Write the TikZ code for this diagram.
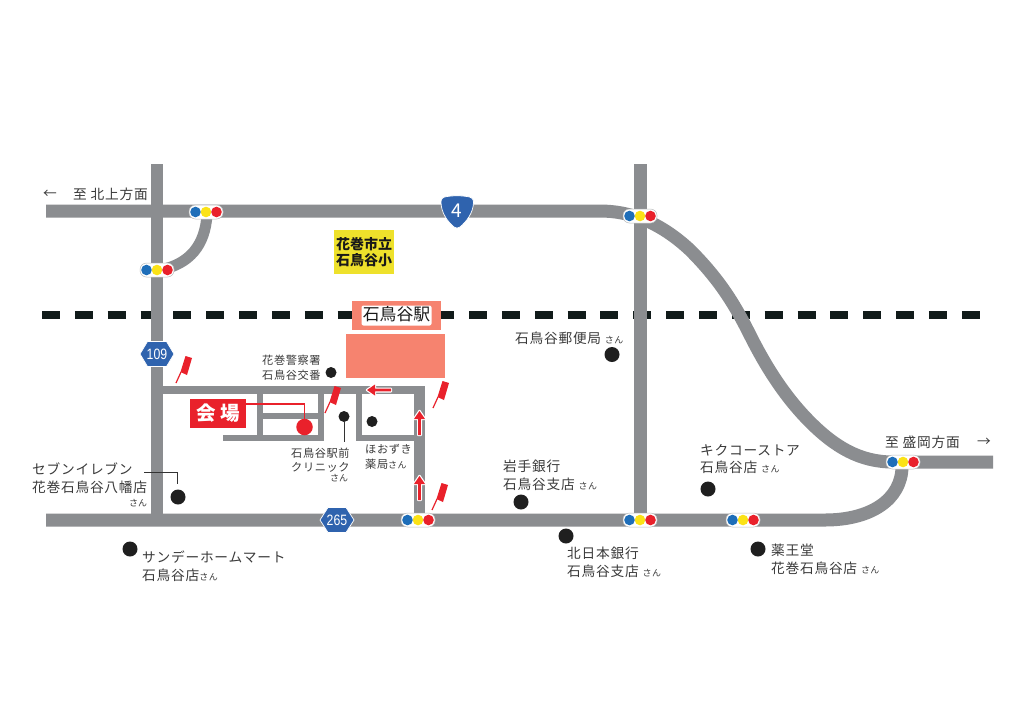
\documentclass[tikz,border=0pt]{standalone}
\usepackage{fontspec}
\setmainfont{Noto Sans CJK JP}
\newfontfamily\jpsp[LetterSpace=5.5]{Noto Sans CJK JP}
\newfontfamily\shieldf[FakeStretch=0.82]{Liberation Sans}
\definecolor{roadgray}{HTML}{8B8D90}
\definecolor{txtgray}{HTML}{3A3A3A}
\definecolor{sigblue}{HTML}{1E6EB9}
\definecolor{sigyellow}{HTML}{FBE216}
\definecolor{sigred}{HTML}{E9212B}
\definecolor{shieldblue}{HTML}{2F63AE}
\definecolor{salmon}{HTML}{F6836F}
\definecolor{schoolyellow}{HTML}{EEE12B}
\definecolor{railblack}{HTML}{111B1A}
\newcommand{\san}{{\fontsize{9}{9}\selectfont さん}}
\tikzset{
  x=1pt,y=-1pt,
  road/.style={draw=roadgray,line width=13pt},
  lane/.style={draw=roadgray,line width=6.5pt},
  lab/.style={inner sep=0pt,anchor=west,align=left,text=txtgray,font=\jpsp\fontsize{13.7}{17.8}\selectfont},
  smalllab/.style={inner sep=0pt,anchor=west,align=left,text=txtgray,font=\jpsp\fontsize{11.2}{14.6}\selectfont},
  sanlab/.style={inner sep=0pt,anchor=west,text=txtgray,font=\fontsize{9}{9}\selectfont},
  bigdot/.style={circle,fill=black!88,minimum size=15pt,inner sep=0pt},
  smalldot/.style={circle,fill=black!88,minimum size=11pt,inner sep=0pt},
  leader/.style={draw=black!80,line width=0.7pt},
  pill/.style={draw=roadgray!60,fill=white,line width=0.5pt,rounded corners=6.5pt,minimum width=34pt,minimum height=14pt,inner sep=0pt},
  lamp/.style={circle,minimum size=10.6pt,inner sep=0pt},
  hexshield/.style={fill=shieldblue,draw=white,line width=0.7pt},
  shieldtxt/.style={inner sep=0pt,text=white,font=\shieldf\fontsize{15}{15}\selectfont},
  flagpin/.pic={
    \draw[sigred,line width=1.2pt] (0,0) -- (5,-11);
    \fill[sigred] (4.5,-11) -- (9.5,-27) -- (16,-25) -- (11,-8) -- cycle;
  },
  solidarrow/.pic={
    \draw[white,fill=white,line width=2.4pt,line join=round]
      (0,0) -- (5.5,8) -- (1.3,8) -- (1.3,24) -- (-1.3,24) -- (-1.3,8) -- (-5.5,8) -- cycle;
    \fill[sigred]
      (0,0) -- (5.5,8) -- (1.3,8) -- (1.3,24) -- (-1.3,24) -- (-1.3,8) -- (-5.5,8) -- cycle;
  }
}
\newcommand{\signal}[3]{%
  \node[pill] (#1) at (#2,#3) {};
  \node[lamp,fill=sigblue] (#1b) at (#2-10.5,#3) {};
  \node[lamp,fill=sigyellow] (#1y) at (#2,#3) {};
  \node[lamp,fill=sigred] (#1r) at (#2+10.5,#3) {};
}
\begin{document}
\begin{tikzpicture}
\useasboundingbox[fill=white] (0,0) rectangle (1024,724);
% railway
\draw[railblack,line width=8.5pt,dash pattern=on 18pt off 14.85pt] (42,315) -- (980,315);
% main roads
\draw[road,line width=12pt] (157,164) -- (157,520);
\draw[road,line width=13pt] (640,164) -- (640,520);
\draw[road] (46,211) -- (600,211) .. controls (630,211) and (660,222) .. (690,250)
  .. controls (720,280) and (735,305) .. (750,335)
  .. controls (770,375) and (790,402) .. (810,422)
  .. controls (835,447) and (860,462) .. (893,462) -- (993,462);
\draw[road] (46,520) -- (825,520) .. controls (870,520) and (902,500) .. (902,466);
\draw[road,line width=11pt] (207,215) .. controls (205,245) and (190,264) .. (160,270);
% local streets
\draw[road,line width=8pt] (157,390) -- (425,390);
\draw[road,line width=11pt] (419.5,386) -- (419.5,520);
\draw[lane] (359,392) -- (359,438) -- (416,438);
\draw[lane] (223,438) -- (321,438) -- (321,392);
\draw[lane] (260,392) -- (260,438);
\draw[lane] (260,416) -- (321,416);
% shields
\path[hexshield] (140,354) -- (147.5,341.5) -- (166.5,341.5) -- (174,354) -- (166.5,366.5) -- (147.5,366.5) -- cycle;
\node[shieldtxt] (r109) at (157,354) {109};
\path[hexshield] (320,520) -- (328,507.5) -- (346,507.5) -- (354,520) -- (346,532.5) -- (328,532.5) -- cycle;
\node[shieldtxt] (r265) at (337,520) {265};
\path[hexshield] (441,202) .. controls (441,198.5) and (443,197) .. (447,196.5)
  .. controls (453,195.5) and (461,195.5) .. (467,196.5)
  .. controls (471,197) and (473.5,198.5) .. (473.5,202)
  .. controls (473.5,213) and (466,222) .. (460,227)
  .. controls (458,228.5) and (456,228.5) .. (454,227)
  .. controls (448,222) and (441,213) .. (441,202) -- cycle;
\node[inner sep=0pt,text=white,font=\fontsize{19}{19}\selectfont] (r4) at (457,211) {4};
% station
\node[fill=salmon,inner sep=0pt,minimum width=89pt,minimum height=29.5pt] (banner) at (396.5,315.5) {};
\node[fill=white,rounded corners=2pt,inner sep=0pt,minimum width=70pt,minimum height=20pt] (halo) at (396.5,315.5) {};
\node[inner sep=0pt,font=\fontsize{16.8}{16.8}\selectfont,text=black!90] (stn) at (396.5,314.5) {石鳥谷駅};
\node[fill=salmon,inner sep=0pt,minimum width=99pt,minimum height=44pt] (platform) at (395.5,356) {};
% school
\node[fill=schoolyellow,inner sep=0pt,minimum width=60pt,minimum height=44pt,align=center,text=black!90,font=\bfseries\fontsize{14}{16.5}\selectfont] (school) at (364,252) {花巻市立\\石鳥谷小};
% venue
\node[fill=sigred,inner sep=0pt,minimum width=56pt,minimum height=29pt,text=white,font=\bfseries\fontsize{19.5}{19.5}\selectfont] (venue) at (218,413.5) {会 場};
\node[circle,fill=sigred,minimum size=16.5pt,inner sep=0pt] (venuedot) at (304.5,427) {};
\coordinate (venuebend) at (304.5,404);
\draw[sigred,line width=1.6pt] (venue.east |- venuebend) -- (venuebend) -- (venuedot);
% red arrows
\pic at (419.5,411) {solidarrow};
\pic at (419.5,476) {solidarrow};
\pic[rotate=90] at (367,390) {solidarrow};
% flags
\pic at (176,383) {flagpin};
\pic at (325,413) {flagpin};
\pic at (433,408) {flagpin};
\pic at (432,510) {flagpin};
% signals
\signal{sa}{206}{212}
\signal{sb}{157}{270}
\signal{sc}{640}{216}
\signal{sd}{903}{462}
\signal{se}{418}{520}
\signal{sf}{640}{520}
\signal{sg}{743}{520}
% facility dots
\node[smalldot] (police) at (331,372.5) {};
\node[smalldot] (clinic) at (344,416.5) {};
\coordinate (clinicend) at (344,442);
\draw[leader] (clinic) -- (clinicend);
\node[smalldot] (hoozuki) at (372,421.5) {};
\node[bigdot] (seven) at (178,497) {};
\coordinate (sevena) at (144,472);
\coordinate (sevenb) at (177,472);
\draw[leader] (sevena) -- (sevenb) -- (sevenb |- 0,484);
\node[bigdot] (sunday) at (130,549) {};
\node[bigdot] (post) at (612,354.5) {};
\node[bigdot] (iwate) at (521,502) {};
\node[bigdot] (kita) at (566,536) {};
\node[bigdot] (kiku) at (708,489) {};
\node[bigdot] (yaku) at (758,549) {};
% labels
\node[lab] (tl) at (43,194) {←};
\node[lab] (tlt) at (73,194) {至 北上方面};
\node[lab] (tr) at (885,442) {至 盛岡方面};
\node[lab] (trr) at (977,442) {→};
\node[lab] (lpost) at (515,338) {石鳥谷郵便局 \san};
\node[smalllab] (lpol) at (262,367.5) {花巻警察署\\石鳥谷交番};
\node[smalllab] (lcl) at (291,460) {石鳥谷駅前\\クリニック};
\node[sanlab] (lcls) at (330,478) {さん};
\node[smalllab] (lho) at (365,457) {ほおずき\\薬局\san};
\node[lab] (lsev) at (32,478.5) {セブンイレブン\\花巻石鳥谷八幡店};
\node[sanlab] (lsevs) at (129,503) {さん};
\node[lab] (lsun) at (142,566.5) {サンデーホームマート\\石鳥谷店\san};
\node[lab] (liw) at (503,475) {岩手銀行\\石鳥谷支店 \san};
\node[lab] (lki) at (567,562) {北日本銀行\\石鳥谷支店 \san};
\node[lab] (lku) at (700,459) {キクコーストア\\石鳥谷店 \san};
\node[lab] (lya) at (771,559) {薬王堂\\花巻石鳥谷店 \san};
\end{tikzpicture}
\end{document}
